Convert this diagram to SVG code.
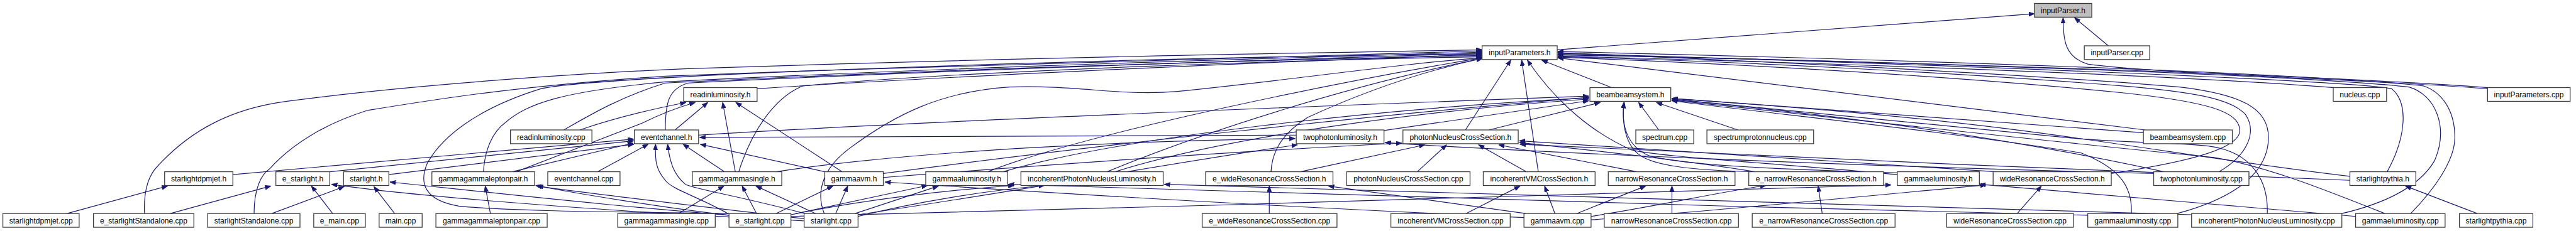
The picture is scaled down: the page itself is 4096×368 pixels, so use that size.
<svg xmlns="http://www.w3.org/2000/svg" width="4096" height="368" viewBox="0 0 4096 368">
<style>
.n rect{fill:#fff;stroke:#3a3a3a;stroke-width:1.4}
.n text{font-family:"Liberation Sans",Arial,sans-serif;font-size:13.2px;fill:#000;text-anchor:middle}
#edges path{fill:none;stroke:#191970;stroke-width:1.3;marker-end:url(#a)}
</style>
<defs>
<marker id="a" markerWidth="11" markerHeight="8" refX="10" refY="3.8" orient="auto" markerUnits="userSpaceOnUse">
<path d="M0,0 L10,3.8 L0,7.6 z" fill="#191970" stroke="#191970" stroke-width="1"/>
</marker>
</defs>
<rect width="4096" height="368" fill="#fff"/>
<g transform="scale(0.912)">
<g id="edges">
<path d="M2715,87 L3547,24"/>
<path d="M3676,80 L3617,31"/>
<path d="M4337,155 C4150,140 3750,128 3640,112 C3600,100 3597,70 3597,31"/>
<path d="M117,373 L292,325"/>
<path d="M297,373 L472,325"/>
<path d="M580,373 L543,325"/>
<path d="M474,373 L600,326"/>
<path d="M688,373 L652,326"/>
<path d="M855,373 L846,325"/>
<path d="M1183,373 L1262,325"/>
<path d="M1319,373 L1294,325"/>
<path d="M1422,373 L1318,325"/>
<path d="M1353,373 L1452,325"/>
<path d="M1457,373 L1478,325"/>
<path d="M1388,373 L1617,324"/>
<path d="M1491,373 L1636,325"/>
<path d="M2213,373 L2213,325"/>
<path d="M2556,373 L2650,325"/>
<path d="M2711,373 L2693,325"/>
<path d="M2749,373 L2869,325"/>
<path d="M2915,373 L2915,325"/>
<path d="M3177,373 L3170,325"/>
<path d="M3517,373 L3559,325"/>
<path d="M4319,373 L4194,325"/>
<path d="M1042,300 L1130,252"/>
<path d="M1263,300 L1191,252"/>
<path d="M1438,300 L1221,252"/>
<path d="M1468,300 L1283,179"/>
<path d="M1282,300 L1260,179"/>
<path d="M1177,227 L1234,179"/>
<path d="M893,300 L1104,250"/>
<path d="M900,300 C1000,262 1080,230 1120,215 C1150,200 1180,188 1212,179"/>
<path d="M1011,227 C1060,210 1130,192 1196,179"/>
<path d="M406,305 L1105,243"/>
<path d="M575,300 L1105,246"/>
<path d="M678,305 L1105,252"/>
<path d="M1269,373 C1220,345 1170,330 1160,315 C1143,295 1142,280 1143,252"/>
<path d="M1403,373 C1300,345 1210,330 1195,322 C1175,305 1168,285 1164,252"/>
<path d="M1271,379 C1000,365 700,340 578,322"/>
<path d="M1402,386 C1100,365 800,330 680,318"/>
<path d="M1271,376 C1150,362 1000,337 934,324"/>
<path d="M1402,382 C1200,358 1000,335 937,325"/>
<path d="M1271,373 C1100,370 900,370 800,360 C740,350 730,320 745,285 C770,240 830,190 943,155 C1050,130 2000,100 2584,94"/>
<path d="M252,373 C250,330 260,305 275,290 C330,230 400,190 500,177 C700,150 1000,128 1200,120 C1800,100 2300,92 2584,87"/>
<path d="M443,373 C443,330 455,305 470,295 C510,250 570,215 640,193 C750,175 900,150 1160,133 C1700,112 2300,96 2584,89"/>
<path d="M843,300 C845,260 860,230 880,215 C920,180 980,160 1160,143 C1700,115 2300,100 2584,91"/>
<path d="M1160,227 C1160,180 1165,155 1200,145 C1700,120 2300,102 2584,93"/>
<path d="M1320,155 C1700,130 2300,105 2584,95"/>
<path d="M983,227 C1030,200 1080,170 1160,145 C1700,118 2300,103 2584,97"/>
<path d="M1288,300 C1310,230 1350,170 1400,150 C1700,122 2300,104 2584,99"/>
<path d="M1437,373 C1420,330 1440,290 1480,260 C1560,200 1640,160 1760,152 C1880,148 1950,168 2050,160 C2250,140 2450,110 2584,101"/>
<path d="M1722,300 C1900,230 2350,140 2584,101"/>
<path d="M1930,300 C2100,230 2350,150 2584,102"/>
<path d="M2216,300 C2218,260 2240,230 2280,205 C2400,150 2500,120 2585,102"/>
<path d="M2555,227 L2634,105"/>
<path d="M2682,300 L2653,105"/>
<path d="M2810,153 L2688,105"/>
<path d="M3308,305 C3100,285 2900,275 2845,262 C2760,225 2700,160 2663,105"/>
<path d="M4337,153 C4000,128 3200,105 2716,96"/>
<path d="M4070,153 C3800,132 3200,110 2716,98"/>
<path d="M3740,227 L2716,101"/>
<path d="M4162,300 C4195,240 4200,180 4170,155 C4100,140 3300,110 2716,93"/>
<path d="M4083,373 C4180,350 4225,315 4245,280 C4270,220 4245,165 4200,152 C4000,130 3300,108 2716,95"/>
<path d="M4203,373 C4245,330 4280,280 4280,240 C4280,190 4255,160 4225,150 C4000,126 3300,104 2716,90"/>
<path d="M3869,300 C3920,270 3935,230 3915,200 C3890,172 3820,160 3700,150 C3400,126 3000,106 2716,99"/>
<path d="M3796,373 C3900,345 3955,300 3955,240 C3955,190 3910,165 3800,152 C3500,127 3000,104 2716,92"/>
<path d="M3681,303 C3800,285 3905,262 3905,228 C3905,195 3850,178 3700,162 C3400,132 3000,110 2716,100"/>
<path d="M2892,227 L2857,179"/>
<path d="M3030,227 L2888,179"/>
<path d="M2596,227 L2790,179"/>
<path d="M2413,228 L2770,176"/>
<path d="M1218,236 C1600,212 2300,185 2770,168"/>
<path d="M1749,300 C1950,240 2400,190 2770,171"/>
<path d="M1944,300 C2150,235 2500,192 2770,173"/>
<path d="M1540,303 C1900,255 2400,200 2770,170"/>
<path d="M3310,302 C3200,298 2950,293 2875,272 C2835,255 2826,215 2832,179"/>
<path d="M3055,300 C2950,297 2880,290 2855,268 C2832,248 2828,210 2831,179"/>
<path d="M3740,232 C3500,215 3200,192 2915,172"/>
<path d="M3773,300 C3500,240 3200,200 2915,174"/>
<path d="M3716,373 C3718,330 3700,295 3628,267 C3400,230 3100,200 2915,176"/>
<path d="M4158,373 C4050,330 3950,290 3860,275 C3500,240 3200,205 2915,175"/>
<path d="M3953,373 C3955,320 3930,265 3850,255 C3780,248 3700,250 3600,240 C3300,210 3100,190 2915,173"/>
<path d="M4097,308 C3900,285 3700,250 3500,225 C3300,200 3100,185 2915,172"/>
<path d="M4097,315 C3700,300 3000,270 2650,252"/>
<path d="M2267,300 L2484,253"/>
<path d="M2471,300 L2522,253"/>
<path d="M2661,300 L2578,253"/>
<path d="M2854,300 L2613,253"/>
<path d="M3060,300 C2950,282 2800,265 2649,249"/>
<path d="M3480,300 C3200,282 2900,262 2649,246"/>
<path d="M1540,310 C1900,282 2200,262 2444,250"/>
<path d="M1353,300 C1600,262 2000,245 2258,242"/>
<path d="M3760,303 C3200,290 2600,262 2415,249"/>
<path d="M2260,236 C1800,236 1500,238 1220,240"/>
<path d="M1496,375 C1800,330 2100,275 2262,253"/>
<path d="M1379,375 C1500,350 1650,332 1768,324"/>
<path d="M1496,378 C1600,352 1720,333 1821,324"/>
<path d="M3640,376 C3000,360 2200,340 1758,322"/>
<path d="M3821,375 C3000,352 2300,335 2030,322"/>
<path d="M2657,380 C2200,360 1800,335 1543,318"/>
<path d="M2660,373 L2316,325"/>
<path d="M2774,378 C2900,358 3000,335 3079,324"/>
<path d="M2774,384 C3000,368 3300,338 3463,323"/>
<path d="M4107,378 C3900,360 3600,335 3452,322"/>
<path d="M1379,378 C2000,362 2900,338 3297,323"/>
</g>
<g id="inputParser_h" class="n"><rect x="3547" y="6" width="100" height="24" style="fill:#bfbfbf"/><text x="3597" y="23">inputParser.h</text></g>
<g id="inputParameters_h" class="n"><rect x="2584" y="80" width="131" height="24"/><text x="2649.5" y="97">inputParameters.h</text></g>
<g id="inputParser_cpp" class="n"><rect x="3634" y="80" width="114" height="24"/><text x="3691" y="97">inputParser.cpp</text></g>
<g id="readinluminosity_h" class="n"><rect x="1192" y="153" width="128" height="24"/><text x="1256" y="170">readinluminosity.h</text></g>
<g id="beambeamsystem_h" class="n"><rect x="2772" y="153" width="141" height="24"/><text x="2842.5" y="170">beambeamsystem.h</text></g>
<g id="nucleus_cpp" class="n"><rect x="4068" y="153" width="93" height="24"/><text x="4114.5" y="170">nucleus.cpp</text></g>
<g id="inputParameters_cpp" class="n"><rect x="4337" y="153" width="144" height="24"/><text x="4409" y="170">inputParameters.cpp</text></g>
<g id="readinluminosity_cpp" class="n"><rect x="890" y="227" width="142" height="24"/><text x="961" y="244">readinluminosity.cpp</text></g>
<g id="eventchannel_h" class="n"><rect x="1106" y="227" width="112" height="24"/><text x="1162" y="244">eventchannel.h</text></g>
<g id="twophotonluminosity_h" class="n"><rect x="2260" y="227" width="153" height="24"/><text x="2336.5" y="244">twophotonluminosity.h</text></g>
<g id="photonNucleusCrossSection_h" class="n"><rect x="2446" y="227" width="201" height="24"/><text x="2546.5" y="244">photonNucleusCrossSection.h</text></g>
<g id="spectrum_cpp" class="n"><rect x="2852" y="227" width="101" height="24"/><text x="2902.5" y="244">spectrum.cpp</text></g>
<g id="spectrumprotonnucleus_cpp" class="n"><rect x="2976" y="227" width="186" height="24"/><text x="3069" y="244">spectrumprotonnucleus.cpp</text></g>
<g id="beambeamsystem_cpp" class="n"><rect x="3737" y="227" width="155" height="24"/><text x="3814.5" y="244">beambeamsystem.cpp</text></g>
<g id="starlightdpmjet_h" class="n"><rect x="287" y="300" width="119" height="24"/><text x="346.5" y="317">starlightdpmjet.h</text></g>
<g id="e_starlight_h" class="n"><rect x="481" y="300" width="94" height="24"/><text x="528" y="317">e_starlight.h</text></g>
<g id="starlight_h" class="n"><rect x="599" y="300" width="79" height="24"/><text x="638.5" y="317">starlight.h</text></g>
<g id="gammagammaleptonpair_h" class="n"><rect x="753" y="300" width="179" height="24"/><text x="842.5" y="317">gammagammaleptonpair.h</text></g>
<g id="eventchannel_cpp" class="n"><rect x="955" y="300" width="126" height="24"/><text x="1018" y="317">eventchannel.cpp</text></g>
<g id="gammagammasingle_h" class="n"><rect x="1207" y="300" width="156" height="24"/><text x="1285" y="317">gammagammasingle.h</text></g>
<g id="gammaavm_h" class="n"><rect x="1438" y="300" width="102" height="24"/><text x="1489" y="317">gammaavm.h</text></g>
<g id="gammaaluminosity_h" class="n"><rect x="1614" y="300" width="143" height="24"/><text x="1685.5" y="317">gammaaluminosity.h</text></g>
<g id="incoherentPhotonNucleusLuminosity_h" class="n"><rect x="1780" y="300" width="248" height="24"/><text x="1904" y="317">incoherentPhotonNucleusLuminosity.h</text></g>
<g id="e_wideResonanceCrossSection_h" class="n"><rect x="2102" y="300" width="222" height="24"/><text x="2213" y="317">e_wideResonanceCrossSection.h</text></g>
<g id="photonNucleusCrossSection_cpp" class="n"><rect x="2348" y="300" width="215" height="24"/><text x="2455.5" y="317">photonNucleusCrossSection.cpp</text></g>
<g id="incoherentVMCrossSection_h" class="n"><rect x="2586" y="300" width="195" height="24"/><text x="2683.5" y="317">incoherentVMCrossSection.h</text></g>
<g id="narrowResonanceCrossSection_h" class="n"><rect x="2804" y="300" width="221" height="24"/><text x="2914.5" y="317">narrowResonanceCrossSection.h</text></g>
<g id="e_narrowResonanceCrossSection_h" class="n"><rect x="3049" y="300" width="235" height="24"/><text x="3166.5" y="317">e_narrowResonanceCrossSection.h</text></g>
<g id="gammaeluminosity_h" class="n"><rect x="3308" y="300" width="143" height="24"/><text x="3379.5" y="317">gammaeluminosity.h</text></g>
<g id="wideResonanceCrossSection_h" class="n"><rect x="3475" y="300" width="206" height="24"/><text x="3578" y="317">wideResonanceCrossSection.h</text></g>
<g id="twophotonluminosity_cpp" class="n"><rect x="3755" y="300" width="166" height="24"/><text x="3838" y="317">twophotonluminosity.cpp</text></g>
<g id="starlightpythia_h" class="n"><rect x="4097" y="300" width="115" height="24"/><text x="4154.5" y="317">starlightpythia.h</text></g>
<g id="starlightdpmjet_cpp" class="n"><rect x="5" y="373" width="133" height="24"/><text x="71.5" y="390">starlightdpmjet.cpp</text></g>
<g id="e_starlightStandalone_cpp" class="n"><rect x="163" y="373" width="175" height="24"/><text x="250.5" y="390">e_starlightStandalone.cpp</text></g>
<g id="starlightStandalone_cpp" class="n"><rect x="362" y="373" width="161" height="24"/><text x="442.5" y="390">starlightStandalone.cpp</text></g>
<g id="e_main_cpp" class="n"><rect x="547" y="373" width="90" height="24"/><text x="592" y="390">e_main.cpp</text></g>
<g id="main_cpp" class="n"><rect x="661" y="373" width="75" height="24"/><text x="698.5" y="390">main.cpp</text></g>
<g id="gammagammaleptonpair_cpp" class="n"><rect x="760" y="373" width="194" height="24"/><text x="857" y="390">gammagammaleptonpair.cpp</text></g>
<g id="gammagammasingle_cpp" class="n"><rect x="1077" y="373" width="170" height="24"/><text x="1162" y="390">gammagammasingle.cpp</text></g>
<g id="e_starlight_cpp" class="n"><rect x="1271" y="373" width="108" height="24"/><text x="1325" y="390">e_starlight.cpp</text></g>
<g id="starlight_cpp" class="n"><rect x="1402" y="373" width="94" height="24"/><text x="1449" y="390">starlight.cpp</text></g>
<g id="e_wideResonanceCrossSection_cpp" class="n"><rect x="2096" y="373" width="235" height="24"/><text x="2213.5" y="390">e_wideResonanceCrossSection.cpp</text></g>
<g id="incoherentVMCrossSection_cpp" class="n"><rect x="2425" y="373" width="208" height="24"/><text x="2529" y="390">incoherentVMCrossSection.cpp</text></g>
<g id="gammaavm_cpp" class="n"><rect x="2657" y="373" width="117" height="24"/><text x="2715.5" y="390">gammaavm.cpp</text></g>
<g id="narrowResonanceCrossSection_cpp" class="n"><rect x="2797" y="373" width="234" height="24"/><text x="2914" y="390">narrowResonanceCrossSection.cpp</text></g>
<g id="e_narrowResonanceCrossSection_cpp" class="n"><rect x="3055" y="373" width="249" height="24"/><text x="3179.5" y="390">e_narrowResonanceCrossSection.cpp</text></g>
<g id="wideResonanceCrossSection_cpp" class="n"><rect x="3394" y="373" width="221" height="24"/><text x="3504.5" y="390">wideResonanceCrossSection.cpp</text></g>
<g id="gammaaluminosity_cpp" class="n"><rect x="3640" y="373" width="157" height="24"/><text x="3718.5" y="390">gammaaluminosity.cpp</text></g>
<g id="incoherentPhotonNucleusLuminosity_cpp" class="n"><rect x="3821" y="373" width="262" height="24"/><text x="3952" y="390">incoherentPhotonNucleusLuminosity.cpp</text></g>
<g id="gammaeluminosity_cpp" class="n"><rect x="4107" y="373" width="156" height="24"/><text x="4185" y="390">gammaeluminosity.cpp</text></g>
<g id="starlightpythia_cpp" class="n"><rect x="4288" y="373" width="128" height="24"/><text x="4352" y="390">starlightpythia.cpp</text></g>
</g>
</svg>
